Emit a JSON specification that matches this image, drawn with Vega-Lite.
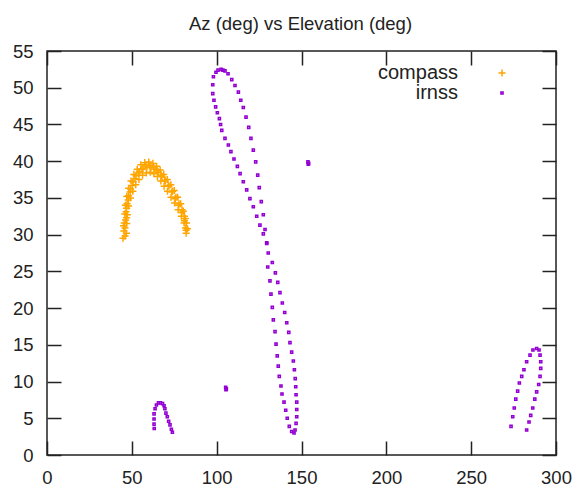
{
  "$schema": "https://vega.github.io/schema/vega-lite/v6.json",
  "width": 509,
  "height": 404,
  "autosize": {"type": "none"},
  "padding": {"left": 47, "top": 51, "right": 22, "bottom": 33},
  "background": "white",
  "title": {"text": "Az (deg) vs Elevation (deg)", "font": "Liberation Sans", "fontSize": 18.5, "fontWeight": "normal", "color": "#222", "offset": 9, "dx": -1},
  "config": {
    "view": {"stroke": "#222", "strokeWidth": 1.5},
    "axis": {"domain": false, "grid": false, "tickColor": "#222", "tickWidth": 1.5, "tickSize": -14, "labelPadding": 27, "labelFlush": false, "labelFont": "Liberation Sans", "labelFontSize": 18.5, "labelColor": "#222", "title": null},
    "axisY": {"labelPadding": 28},
    "legend": {"orient": "none", "legendX": 445, "legendY": 12, "title": null, "labelAlign": "right", "labelOffset": -54, "labelFont": "Liberation Sans", "labelFontSize": 20, "labelColor": "#222", "symbolSize": 50, "symbolStrokeWidth": 1.5, "rowPadding": -1}
  },
  "data": {"values": [
    {"s":"compass","az":44.8,"el":29.5},{"s":"compass","az":46.0,"el":29.8},{"s":"compass","az":46.0,"el":30.9},{"s":"compass","az":46.3,"el":32.0},{"s":"compass","az":46.6,"el":33.1},{"s":"compass","az":47.2,"el":34.2},{"s":"compass","az":48.0,"el":35.3},{"s":"compass","az":49.2,"el":36.2},{"s":"compass","az":50.7,"el":37.2},{"s":"compass","az":52.5,"el":38.0},{"s":"compass","az":54.5,"el":38.6},{"s":"compass","az":56.6,"el":39.0},{"s":"compass","az":58.9,"el":39.2},{"s":"compass","az":61.3,"el":39.1},{"s":"compass","az":63.7,"el":38.9},{"s":"compass","az":65.7,"el":38.5},{"s":"compass","az":67.8,"el":37.9},{"s":"compass","az":69.8,"el":37.3},{"s":"compass","az":71.9,"el":36.6},{"s":"compass","az":74.0,"el":35.9},{"s":"compass","az":76.0,"el":35.1},{"s":"compass","az":77.8,"el":34.2},{"s":"compass","az":79.6,"el":33.4},{"s":"compass","az":81.0,"el":32.5},{"s":"compass","az":82.2,"el":31.6},{"s":"compass","az":82.8,"el":30.8},
    {"s":"compass","az":45.3,"el":30.5},{"s":"compass","az":45.5,"el":31.6},{"s":"compass","az":45.8,"el":32.8},{"s":"compass","az":46.2,"el":34.0},{"s":"compass","az":47.0,"el":35.2},{"s":"compass","az":48.1,"el":36.3},{"s":"compass","az":49.5,"el":37.3},{"s":"compass","az":51.2,"el":38.2},{"s":"compass","az":53.2,"el":38.9},{"s":"compass","az":55.3,"el":39.5},{"s":"compass","az":57.6,"el":39.8},{"s":"compass","az":60.0,"el":39.9},{"s":"compass","az":62.4,"el":39.7},{"s":"compass","az":64.6,"el":39.3},{"s":"compass","az":66.7,"el":38.8},{"s":"compass","az":68.8,"el":38.2},{"s":"compass","az":70.9,"el":37.5},{"s":"compass","az":73.0,"el":36.8},{"s":"compass","az":75.0,"el":36.0},{"s":"compass","az":77.0,"el":35.1},{"s":"compass","az":78.8,"el":34.2},{"s":"compass","az":80.3,"el":33.2},{"s":"compass","az":81.5,"el":32.2},
    {"s":"compass","az":46.8,"el":30.2},{"s":"compass","az":47.0,"el":31.5},{"s":"compass","az":47.4,"el":32.7},{"s":"compass","az":48.1,"el":33.9},{"s":"compass","az":49.2,"el":35.0},{"s":"compass","az":50.6,"el":35.9},{"s":"compass","az":52.3,"el":36.8},{"s":"compass","az":54.2,"el":37.5},{"s":"compass","az":56.3,"el":38.1},{"s":"compass","az":58.5,"el":38.4},{"s":"compass","az":60.8,"el":38.5},{"s":"compass","az":63.0,"el":38.3},{"s":"compass","az":65.1,"el":37.9},{"s":"compass","az":67.1,"el":37.3},{"s":"compass","az":69.0,"el":36.6},{"s":"compass","az":71.0,"el":35.9},{"s":"compass","az":73.1,"el":35.1},{"s":"compass","az":75.2,"el":34.3},{"s":"compass","az":77.3,"el":33.4},{"s":"compass","az":79.2,"el":32.5},{"s":"compass","az":80.8,"el":31.6},{"s":"compass","az":82.0,"el":30.6},{"s":"compass","az":82.0,"el":30.2},
    {"s":"compass","az":45.1,"el":31.2},{"s":"compass","az":46.9,"el":32.3},{"s":"compass","az":46.9,"el":33.6},{"s":"compass","az":47.9,"el":34.7},{"s":"compass","az":49.0,"el":35.8},{"s":"compass","az":50.3,"el":36.7},{"s":"compass","az":51.9,"el":37.6},{"s":"compass","az":53.8,"el":38.4},{"s":"compass","az":55.9,"el":38.9},{"s":"compass","az":58.2,"el":39.4},{"s":"compass","az":60.6,"el":39.4},{"s":"compass","az":62.9,"el":39.2},{"s":"compass","az":65.1,"el":38.7},{"s":"compass","az":67.2,"el":38.1},{"s":"compass","az":69.4,"el":37.4},{"s":"compass","az":71.5,"el":36.7},{"s":"compass","az":73.6,"el":35.8},{"s":"compass","az":75.6,"el":34.9},{"s":"compass","az":77.6,"el":34.0},{"s":"compass","az":79.4,"el":33.0},{"s":"compass","az":81.0,"el":31.9},{"s":"compass","az":81.6,"el":30.9},
    {"s":"irnss","az":99.6,"el":52.1},{"s":"irnss","az":98.1,"el":51.5},{"s":"irnss","az":97.7,"el":50.4},{"s":"irnss","az":97.7,"el":49.2},{"s":"irnss","az":98.4,"el":48.3},{"s":"irnss","az":99.4,"el":47.4},{"s":"irnss","az":100.4,"el":46.6},{"s":"irnss","az":101.6,"el":45.8},{"s":"irnss","az":102.3,"el":45.0},{"s":"irnss","az":103.0,"el":44.2},{"s":"irnss","az":104.9,"el":43.1},{"s":"irnss","az":106.9,"el":42.2},{"s":"irnss","az":108.4,"el":41.3},{"s":"irnss","az":110.2,"el":40.3},{"s":"irnss","az":112.2,"el":39.3},{"s":"irnss","az":113.8,"el":38.3},{"s":"irnss","az":115.7,"el":37.2},{"s":"irnss","az":117.7,"el":36.1},{"s":"irnss","az":119.6,"el":34.9},{"s":"irnss","az":121.6,"el":33.8},{"s":"irnss","az":123.6,"el":32.5},{"s":"irnss","az":125.5,"el":31.3},{"s":"irnss","az":127.5,"el":30.1},{"s":"irnss","az":129.5,"el":28.9},{"s":"irnss","az":130.4,"el":27.5},
    {"s":"irnss","az":130.1,"el":25.6},{"s":"irnss","az":131.4,"el":23.7},{"s":"irnss","az":132.0,"el":21.9},{"s":"irnss","az":132.8,"el":20.1},{"s":"irnss","az":133.4,"el":18.4},{"s":"irnss","az":134.4,"el":16.8},{"s":"irnss","az":135.0,"el":15.1},{"s":"irnss","az":135.7,"el":13.5},{"s":"irnss","az":136.3,"el":12.1},{"s":"irnss","az":136.9,"el":10.7},{"s":"irnss","az":137.9,"el":9.4},{"s":"irnss","az":138.5,"el":8.3},{"s":"irnss","az":139.7,"el":7.2},{"s":"irnss","az":140.7,"el":6.1},{"s":"irnss","az":141.6,"el":5.0},{"s":"irnss","az":142.8,"el":3.9},{"s":"irnss","az":144.2,"el":3.2},{"s":"irnss","az":145.6,"el":3.0},
    {"s":"irnss","az":100.8,"el":52.4},{"s":"irnss","az":102.6,"el":52.5},{"s":"irnss","az":103.7,"el":52.4},{"s":"irnss","az":104.9,"el":52.3},{"s":"irnss","az":106.7,"el":51.9},{"s":"irnss","az":108.9,"el":51.1},{"s":"irnss","az":110.8,"el":50.3},{"s":"irnss","az":112.8,"el":49.4},{"s":"irnss","az":114.2,"el":48.3},{"s":"irnss","az":115.7,"el":47.3},{"s":"irnss","az":117.3,"el":46.0},{"s":"irnss","az":118.9,"el":44.6},{"s":"irnss","az":120.2,"el":43.1},{"s":"irnss","az":121.6,"el":41.5},{"s":"irnss","az":123.0,"el":39.9},{"s":"irnss","az":124.2,"el":38.1},{"s":"irnss","az":125.1,"el":36.4},{"s":"irnss","az":126.3,"el":34.5},{"s":"irnss","az":127.5,"el":32.7},{"s":"irnss","az":128.5,"el":30.7},{"s":"irnss","az":129.5,"el":28.8},
    {"s":"irnss","az":132.8,"el":26.2},{"s":"irnss","az":134.6,"el":24.8},{"s":"irnss","az":136.0,"el":23.5},{"s":"irnss","az":137.3,"el":22.1},{"s":"irnss","az":138.7,"el":20.7},{"s":"irnss","az":140.1,"el":19.4},{"s":"irnss","az":141.3,"el":18.0},{"s":"irnss","az":142.5,"el":16.7},{"s":"irnss","az":143.2,"el":15.3},{"s":"irnss","az":144.2,"el":14.0},{"s":"irnss","az":145.2,"el":12.8},{"s":"irnss","az":145.8,"el":11.6},{"s":"irnss","az":146.3,"el":10.4},{"s":"irnss","az":146.6,"el":9.3},{"s":"irnss","az":146.8,"el":8.2},{"s":"irnss","az":147.2,"el":7.2},{"s":"irnss","az":147.2,"el":6.2},{"s":"irnss","az":147.2,"el":5.2},{"s":"irnss","az":146.8,"el":4.3},{"s":"irnss","az":146.2,"el":3.4},
    {"s":"irnss","az":153.8,"el":39.9},{"s":"irnss","az":154.2,"el":39.7},{"s":"irnss","az":154.0,"el":39.6},{"s":"irnss","az":105.3,"el":9.2},{"s":"irnss","az":105.7,"el":9.0},{"s":"irnss","az":105.5,"el":8.9},
    {"s":"irnss","az":63.2,"el":3.6},{"s":"irnss","az":63.1,"el":4.2},{"s":"irnss","az":63.1,"el":4.9},{"s":"irnss","az":63.1,"el":5.6},{"s":"irnss","az":63.7,"el":6.3},{"s":"irnss","az":64.5,"el":6.8},{"s":"irnss","az":65.7,"el":7.1},{"s":"irnss","az":66.9,"el":7.1},{"s":"irnss","az":68.1,"el":7.0},{"s":"irnss","az":69.0,"el":6.7},{"s":"irnss","az":69.5,"el":6.3},{"s":"irnss","az":70.1,"el":5.7},{"s":"irnss","az":70.9,"el":5.2},{"s":"irnss","az":71.7,"el":4.6},{"s":"irnss","az":72.5,"el":4.1},{"s":"irnss","az":73.3,"el":3.5},{"s":"irnss","az":73.9,"el":3.1},
    {"s":"irnss","az":273.5,"el":3.9},{"s":"irnss","az":274.5,"el":5.2},{"s":"irnss","az":275.4,"el":6.4},{"s":"irnss","az":276.3,"el":7.6},{"s":"irnss","az":277.4,"el":8.7},{"s":"irnss","az":278.4,"el":9.8},{"s":"irnss","az":279.8,"el":10.7},{"s":"irnss","az":281.1,"el":11.6},{"s":"irnss","az":282.7,"el":12.7},{"s":"irnss","az":284.7,"el":13.6},{"s":"irnss","az":286.4,"el":14.3},{"s":"irnss","az":288.6,"el":14.5},{"s":"irnss","az":290.0,"el":14.3},{"s":"irnss","az":290.6,"el":13.6},{"s":"irnss","az":291.0,"el":12.7},{"s":"irnss","az":291.0,"el":11.8},{"s":"irnss","az":290.6,"el":10.7},{"s":"irnss","az":289.8,"el":9.6},{"s":"irnss","az":288.6,"el":8.6},{"s":"irnss","az":287.5,"el":7.6},{"s":"irnss","az":286.3,"el":6.4},{"s":"irnss","az":285.1,"el":5.4},{"s":"irnss","az":284.1,"el":4.5},{"s":"irnss","az":282.7,"el":3.4}
  ]},
  "layer": [
    {
      "mark": {"type": "point", "filled": false, "opacity": 1, "strokeWidth": 1.5, "size": 50},
      "encoding": {
        "x": {"field": "az", "type": "quantitative", "scale": {"domain": [0, 300], "nice": false, "zero": false}, "axis": {"orient": "bottom", "values": [0, 50, 100, 150, 200, 250, 300]}},
        "y": {"field": "el", "type": "quantitative", "scale": {"domain": [0, 55], "nice": false, "zero": false}, "axis": {"orient": "left", "values": [0, 5, 10, 15, 20, 25, 30, 35, 40, 45, 50, 55]}},
        "color": {"field": "s", "type": "nominal", "scale": {"domain": ["compass", "irnss"], "range": ["#FFA500", "#9400D3"]}},
        "shape": {"field": "s", "type": "nominal", "scale": {"domain": ["compass", "irnss"], "range": ["M-1,0H1M0,-1V1", "M-0.3,-0.3H0.3V0.3H-0.3Z"]}}
      }
    },
    {
      "mark": {"type": "point", "opacity": 0},
      "encoding": {
        "x": {"field": "az", "type": "quantitative", "scale": {"domain": [0, 300], "nice": false, "zero": false}, "axis": {"orient": "top", "labels": false, "values": [0, 50, 100, 150, 200, 250, 300]}},
        "y": {"field": "el", "type": "quantitative", "scale": {"domain": [0, 55], "nice": false, "zero": false}, "axis": {"orient": "right", "labels": false, "values": [0, 5, 10, 15, 20, 25, 30, 35, 40, 45, 50, 55]}}
      }
    }
  ]
}
